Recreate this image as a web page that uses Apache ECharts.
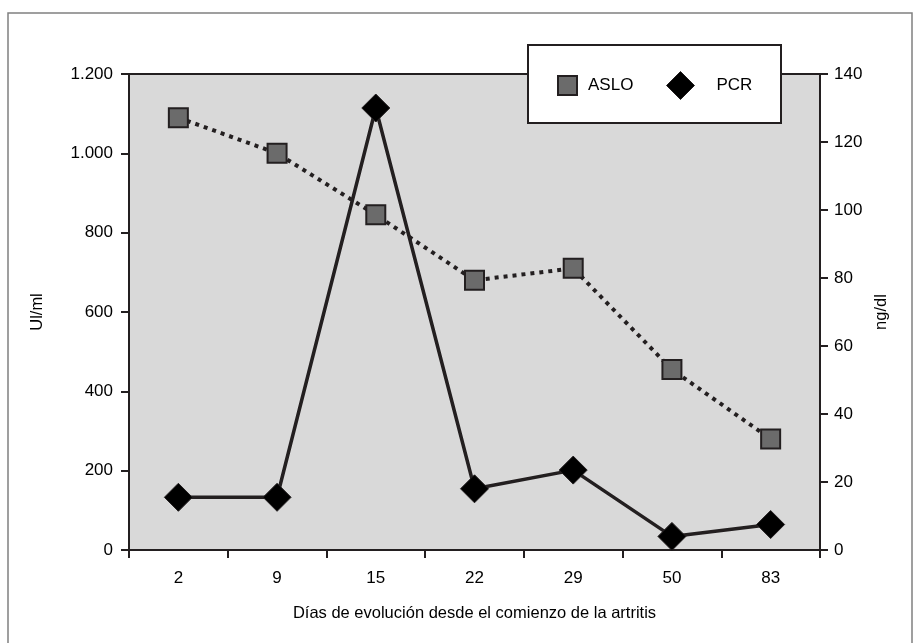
<!DOCTYPE html>
<html>
<head>
<meta charset="utf-8">
<script src="https://cdn.jsdelivr.net/npm/echarts@6/dist/echarts.min.js"></script>
<style>
html,body{margin:0;padding:0;background:#fff;}
#chart{width:918px;height:643px;}
</style>
</head>
<body>
<div id="chart"></div>
<script>
const categories = ['2', '9', '15', '22', '29', '50', '83'];
const asloValues = [1090, 1000, 845, 680, 710, 455, 280];
const pcrValues = [15.5, 15.5, 130, 18, 23.5, 4, 7.5];

const dark = '#231f20';
const font = 'Liberation Sans, Arial, sans-serif';

function fmtThousands(v) {
  return String(v).replace(/\B(?=(\d{3})+(?!\d))/g, '.');
}

const chart = echarts.init(document.getElementById('chart'), null, {renderer: 'canvas'});
chart.setOption({
  backgroundColor: '#ffffff',
  animation: false,
  graphic: [{
    type: 'rect',
    shape: {x: 8, y: 13, width: 904, height: 700},
    style: {fill: 'none', stroke: '#808080', lineWidth: 1.5},
    silent: true,
    z: -10
  }, {
    type: 'rect',
    shape: {x: 528, y: 45, width: 253, height: 78},
    style: {fill: '#ffffff', stroke: dark, lineWidth: 2},
    silent: true,
    z: 15
  }],
  grid: {
    left: 129, top: 74, right: 98, bottom: 93,
    show: true,
    backgroundColor: '#d9d9d9',
    borderColor: dark,
    borderWidth: 2
  },
  legend: [{
    left: 552, top: 70,
    padding: 5,
    itemWidth: 19, itemHeight: 19,
    textStyle: {fontFamily: font, fontSize: 17, color: '#000', padding: [0, 0, 0, 6]},
    data: [{name: 'ASLO', icon: 'rect', itemStyle: {color: '#6b6b6b', borderColor: dark, borderWidth: 2}}],
    z: 20
  }, {
    left: 661, top: 66,
    padding: 5,
    itemWidth: 28, itemHeight: 28,
    textStyle: {fontFamily: font, fontSize: 17, color: '#000', padding: [0, 0, 0, 17]},
    data: [{name: 'PCR', icon: 'diamond', itemStyle: {color: '#000', borderColor: dark, borderWidth: 1}}],
    z: 20
  }],
  xAxis: {
    type: 'category',
    data: categories,
    boundaryGap: true,
    name: 'Días de evolución desde el comienzo de la artritis',
    nameLocation: 'middle',
    nameGap: 55,
    nameTextStyle: {fontFamily: font, fontSize: 16.5, color: '#000'},
    axisLine: {lineStyle: {color: dark, width: 2}},
    axisTick: {show: true, length: 8, inside: false, alignWithLabel: false, lineStyle: {color: dark, width: 2}},
    axisLabel: {fontFamily: font, fontSize: 17, color: '#000', margin: 20},
    splitLine: {show: false}
  },
  yAxis: [{
    type: 'value',
    min: 0, max: 1200, interval: 200,
    position: 'left',
    name: 'Ul/ml',
    nameLocation: 'middle',
    nameGap: 83,
    nameRotate: 90,
    nameTextStyle: {fontFamily: font, fontSize: 16.5, color: '#000'},
    axisLine: {show: true, lineStyle: {color: dark, width: 2}},
    axisTick: {show: true, length: 8, lineStyle: {color: dark, width: 2}},
    axisLabel: {fontFamily: font, fontSize: 17, color: '#000', margin: 16,
      formatter: v => fmtThousands(v)},
    splitLine: {show: false}
  }, {
    type: 'value',
    min: 0, max: 140, interval: 20,
    position: 'right',
    name: 'ng/dl',
    nameLocation: 'middle',
    nameGap: 50,
    nameRotate: 90,
    nameTextStyle: {fontFamily: font, fontSize: 16.5, color: '#000'},
    axisLine: {show: true, lineStyle: {color: dark, width: 2}},
    axisTick: {show: true, length: 8, lineStyle: {color: dark, width: 2}},
    axisLabel: {fontFamily: font, fontSize: 17, color: '#000', margin: 14},
    splitLine: {show: false}
  }],
  series: [{
    name: 'ASLO',
    type: 'line',
    yAxisIndex: 0,
    data: asloValues,
    symbol: 'rect',
    symbolSize: 19,
    itemStyle: {color: '#6b6b6b', borderColor: dark, borderWidth: 2},
    lineStyle: {color: dark, width: 4, type: [4, 5]},
    z: 3
  }, {
    name: 'PCR',
    type: 'line',
    yAxisIndex: 1,
    data: pcrValues,
    symbol: 'diamond',
    symbolSize: 28,
    itemStyle: {color: '#000', borderColor: dark, borderWidth: 1},
    lineStyle: {color: dark, width: 3.5},
    z: 4
  }]
});
</script>
</body>
</html>
